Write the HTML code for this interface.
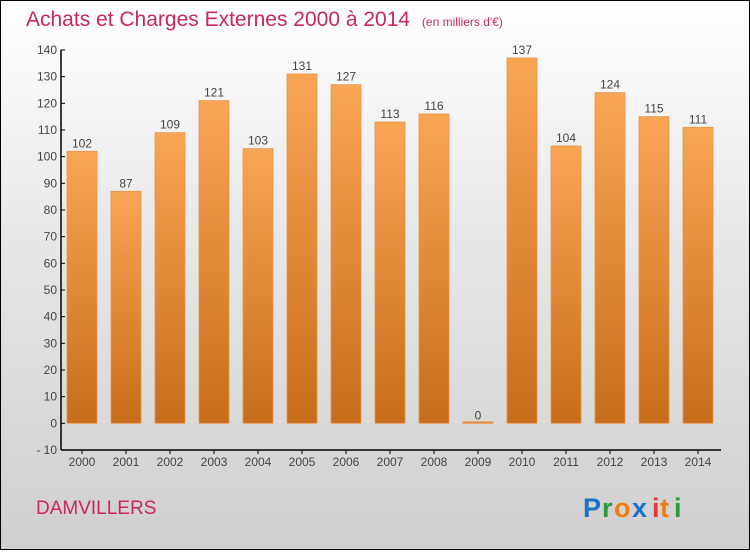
<!DOCTYPE html>
<html><head><meta charset="utf-8"><style>
body{margin:0;width:750px;height:550px;overflow:hidden;font-family:"Liberation Sans",sans-serif}
#wrap{position:absolute;left:0;top:0;width:748px;height:548px;border:1px solid #000;background:linear-gradient(#ffffff,#e4e4e4 50%,#cfcfcf)}
</style></head><body>
<div id="wrap">
<svg width="748" height="548" viewBox="1 1 748 548" xmlns="http://www.w3.org/2000/svg">
<defs><linearGradient id="bg" x1="0" y1="0" x2="0" y2="1"><stop offset="0" stop-color="#f9a654"/><stop offset="1" stop-color="#c76d1c"/></linearGradient></defs>
<text x="26" y="26" font-size="21" fill="#c8285a">Achats et Charges Externes 2000 à 2014 <tspan font-size="12" dx="6">(en milliers d'€)</tspan></text>
<g id="yaxis"></g>
<g id="bars"></g>
<g id="xaxis"></g>
<text x="36" y="514" font-size="19" fill="#c8285a">DAMVILLERS</text>
<g font-size="27" font-weight="bold">
<text x="583" y="517" fill="#1a73c9">P</text><text x="602" y="517" fill="#2a9a3a">r</text><text x="614" y="517" fill="#f07d0a">o</text><text x="632" y="517" fill="#1a73c9">x</text><text x="652" y="517" fill="#e33">i</text><text x="660" y="517" fill="#f07d0a">t</text><text x="674" y="517" fill="#2a9a3a">i</text>
</g>
</svg></div>
<script>
const years=["2000","2001","2002","2003","2004","2005","2006","2007","2008","2009","2010","2011","2012","2013","2014"];
const values=[102,87,109,121,103,131,127,113,116,0,137,104,124,115,111];
const yTicks=[-10,0,10,20,30,40,50,60,70,80,90,100,110,120,130,140];
const NS="http://www.w3.org/2000/svg";
const y=v=>423.3-v*(400/150);
const x=i=>82+i*44;
function mk(t,a,p){const e=document.createElementNS(NS,t);for(const k in a)e.setAttribute(k,a[k]);p.appendChild(e);return e;}
const ya=document.getElementById('yaxis'),xa=document.getElementById('xaxis'),bs=document.getElementById('bars');
mk('line',{x1:61,y1:y(140),x2:61,y2:y(-10),stroke:'#000','stroke-width':1.5},ya);
yTicks.forEach(t=>{
 const l=mk('line',{x1:61,y1:y(t),x2:65,y2:y(t),stroke:'#000'},ya);
 
 
 const tx=mk('text',{x:57,y:y(t)+4,'font-size':12,fill:'#444','text-anchor':'end'},ya);
 tx.textContent=t<0?'- '+(-t):t;
 
 
});
mk('line',{x1:61,y1:y(-10),x2:721,y2:y(-10),stroke:'#000','stroke-width':1.5},xa);
years.forEach((yr,i)=>{
 const l=mk('line',{x1:x(i),y1:y(-10),x2:x(i),y2:y(-10)+4,stroke:'#000'},xa);
 
 
 const tx=mk('text',{x:x(i),y:466,'font-size':12,fill:'#444','text-anchor':'middle'},xa);
 tx.textContent=yr;
 
 
 const v=values[i];
 const h=Math.max(Math.abs(y(v)-y(0)),1.5);
 const r=mk('rect',{x:x(i)-15,y:Math.min(y(v),y(0)-1.5),width:30,height:h,fill:'url(#bg)',stroke:'#e8944a','stroke-width':0.8},bs);
 
 
 const vl=mk('text',{x:x(i),y:y(v)-4,'font-size':12,fill:'#444','text-anchor':'middle'},bs);
 vl.textContent=v;
 
 
});
</script>
</body></html>
